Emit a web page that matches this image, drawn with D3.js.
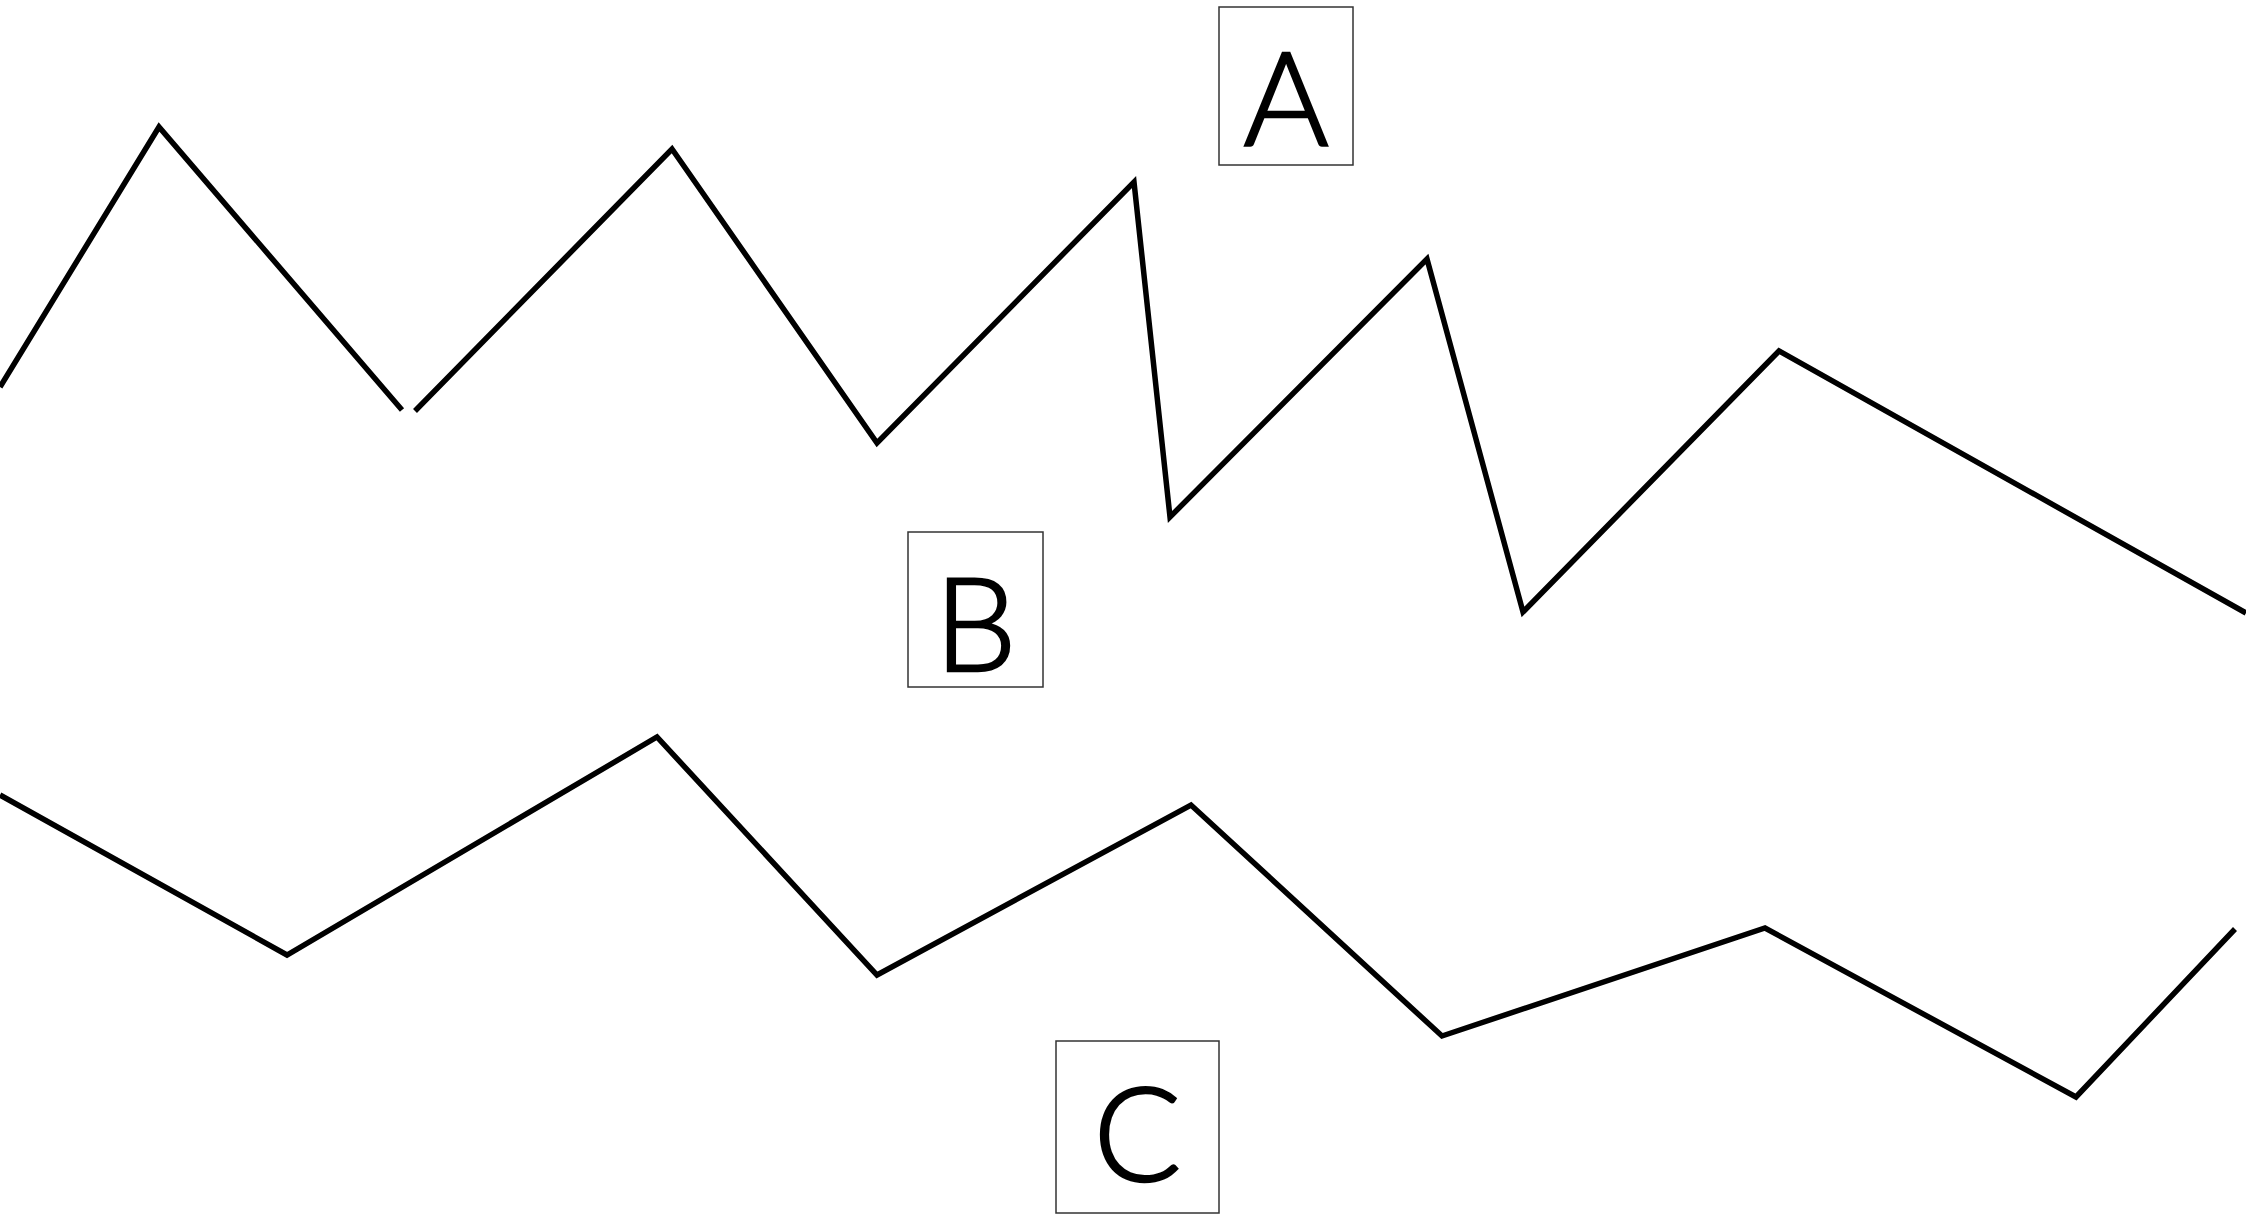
<!DOCTYPE html>
<html>
<head>
<meta charset="utf-8">
<script src="https://cdn.jsdelivr.net/npm/d3@7"></script>
<style>
  html, body { margin: 0; padding: 0; background: #fff; }
  svg { display: block; }
</style>
</head>
<body>
<svg id="chart" width="2246" height="1216"></svg>
<script>
// upper zigzag (null = break in the line)
let upperX = [0, 159, 402, null, 415, 672, 877, 1134, 1170, 1427, 1523, 1779, 2246];
let upperY = [387, 127, 410, null, 411, 149, 443, 182, 517, 259, 612, 351, 613];

// lower zigzag
let lowerX = [0, 287, 657, 877, 1191, 1442, 1765, 2076, 2235];
let lowerY = [795, 955, 737, 975, 805, 1036, 928, 1097, 929];

// boxed labels
let labels = ["A", "B", "C"];
let boxX0 = [1219, 908, 1056];
let boxX1 = [1353, 1043, 1219];
let boxY0 = [7, 532, 1041];
let boxY1 = [165, 687, 1213];
let letterBase = [146, 671, 1181];

let svg = d3.select("#chart"),
    width = +svg.attr("width"),
    height = +svg.attr("height");

let xScale = d3.scaleLinear().domain([0, 2246]).range([0, width]),
    yScale = d3.scaleLinear().domain([0, 1216]).range([0, height]);

let line = d3.line()
    .defined(function(d) { return d[0] != null; })
    .x(function(d) { return xScale(d[0]); })
    .y(function(d) { return yScale(d[1]); });

let upper = upperX.map(function(x, i) { return [x, upperY[i]]; });
let lower = lowerX.map(function(x, i) { return [x, lowerY[i]]; });

svg.append("g")
    .selectAll("path")
    .data([upper, lower])
    .enter()
    .append("path")
    .attr("d", line)
    .attr("fill", "none")
    .attr("stroke", "#000")
    .attr("stroke-width", 5.5)
    .attr("stroke-linejoin", "miter");

let boxes = svg.append("g")
    .selectAll("g")
    .data(labels)
    .enter()
    .append("g");

boxes.append("rect")
    .attr("x", function(d, i) { return xScale(boxX0[i]); })
    .attr("y", function(d, i) { return yScale(boxY0[i]); })
    .attr("width", function(d, i) { return xScale(boxX1[i]) - xScale(boxX0[i]); })
    .attr("height", function(d, i) { return yScale(boxY1[i]) - yScale(boxY0[i]); })
    .attr("fill", "#fff")
    .attr("stroke", "#333")
    .attr("stroke-width", 1.5);

// light weight plus a thin outline gets close to the book weight of the original
boxes.append("text")
    .attr("x", function(d, i) { return xScale((boxX0[i] + boxX1[i]) / 2); })
    .attr("y", function(d, i) { return yScale(letterBase[i]); })
    .attr("text-anchor", "middle")
    .style("font-family", "Lato, 'Noto Sans', sans-serif")
    .style("font-weight", 300)
    .style("font-size", "130px")
    .style("fill", "#000")
    .style("stroke", "#000")
    .style("stroke-width", 2.5)
    .text(function(d) { return d; });
</script>
</body>
</html>
